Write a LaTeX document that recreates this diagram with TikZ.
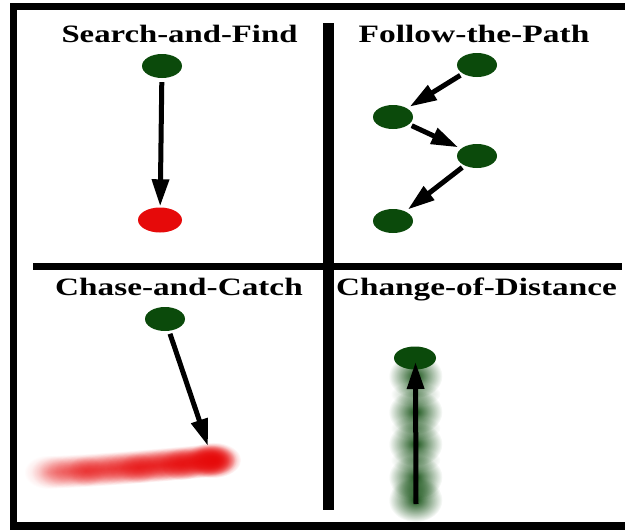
\documentclass[tikz,border=0pt]{standalone}
\usepackage{fontspec}
\setmainfont{Liberation Serif}
\usetikzlibrary{shapes.geometric,arrows.meta,fadings}
\definecolor{leaf}{HTML}{0B4A0B}
\definecolor{signal}{HTML}{E60A0A}

% radial fading: opaque core, soft transparent rim
\tikzfading[name=softrim,
  inner color=transparent!0, outer color=transparent!100]

% soft, blurred spot
\newcommand\softspot[6]{%
  \fill[#5,opacity=#6,path fading=softrim] (#1,#2) ellipse[x radius=#3pt, y radius=#4pt];
}

\begin{document}
\begin{tikzpicture}[x=1pt,y=-1pt,
  gnode/.style={ellipse,fill=leaf,minimum width=40pt,minimum height=24pt,inner sep=0pt},
  rnode/.style={ellipse,fill=signal,minimum width=44pt,minimum height=25pt,inner sep=0pt},
  arr/.style={line width=5pt,-{Triangle[length=27pt,width=16.5pt]},shorten <=3pt,shorten >=2pt},
  title/.style={anchor=base,inner sep=0pt,font=\fontsize{25}{28}\selectfont\bfseries},
  frame/.style={line width=7.5pt,miter limit=10}]
\useasboundingbox (0,0) rectangle (625,530);

% outer frame and dividers
\draw[frame] (640,6.5) -- (13.5,6.5) -- (13.5,526) -- (640,526);
\draw[line width=10.5pt] (328.5,23) -- (328.5,510);
\draw[line width=7.3pt] (33,266.3) -- (622,266.3);

% panel titles
\node[title] (t1) at (179.5,42) {\scalebox{1.31}[1]{Search-and-Find}};
\node[title] (t2) at (474,42) {\scalebox{1.34}[1]{Follow-the-Path}};
\node[title] (t3) at (179,295) {\scalebox{1.33}[1]{Chase-and-Catch}};
\node[title] (t4) at (476.5,295) {\scalebox{1.33}[1]{Change-of-Distance}};

% Search-and-Find
\node[gnode] (s1) at (162,66) {};
\node[rnode] (s2) at (160,220) {};
\draw[arr,shorten <=4pt,shorten >=1pt] (s1) -- (s2);

% Follow-the-Path
\node[gnode] (f1) at (477,65) {};
\node[gnode] (f2) at (393,117) {};
\node[gnode] (f3) at (477,156) {};
\node[gnode] (f4) at (393,221) {};
\draw[arr,shorten >=3pt] (f1) -- (f2);
\draw[arr,shorten >=3pt] (f2) -- (f3);
\draw[arr,shorten >=3pt] (f3) -- (f4);

% Chase-and-Catch: blurred red trail
\foreach \i in {0,...,22}{
  \pgfmathsetmacro\px{48+\i*7.5}
  \pgfmathsetmacro\py{472-12*(\i/22)^1.3}
  \pgfmathsetmacro\op{0.25+0.45*(\i/22)}
  \softspot{\px}{\py}{24}{17}{signal}{\op}
}
\softspot{86}{471}{20}{15}{signal}{0.35}
\softspot{138}{468}{20}{15}{signal}{0.4}
\softspot{182}{464}{22}{16}{signal}{0.5}
\softspot{213}{460}{28}{18}{signal}{1}
\softspot{213}{460}{22}{15}{signal}{1}
\node[gnode] (c1) at (165,319) {};
\coordinate (c2) at (208,446);
\draw[arr,shorten >=0pt] (c1) -- (c2);

% Change-of-Distance: blurred green column
\foreach \yy in {376,412,444,477,500}{
  \softspot{415.5}{\yy}{27}{22}{leaf}{0.95}
}
\foreach \yy in {394,428,460,489}{
  \softspot{415.5}{\yy}{25}{12}{leaf}{0.4}
}
\node[gnode,minimum width=42pt,minimum height=23pt] (d1) at (415,358) {};
\coordinate (d0) at (416,504);
\coordinate (d2) at (415.5,362);
\draw[arr,shorten <=0pt,shorten >=0pt] (d0) -- (d2);
\end{tikzpicture}
\end{document}
